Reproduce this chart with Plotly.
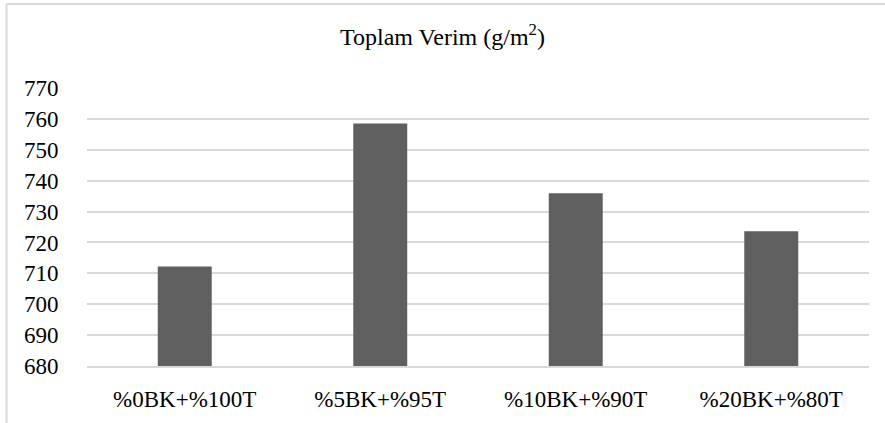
import plotly.graph_objects as go

categories = ["%0BK+%100T", "%5BK+%95T", "%10BK+%90T", "%20BK+%80T"]
values = [712.2, 758.5, 735.9, 723.6]
tick_vals = [680, 690, 700, 710, 720, 730, 740, 750, 760, 770]
title_text = "Toplam Verim (g/m<sup>2</sup>)"

font_family = "Liberation Serif"

fig = go.Figure(go.Bar(
    x=categories, y=values,
    marker=dict(color="#5f5f5f", line=dict(width=0)),
))

fig.update_layout(
    width=885, height=423,
    margin=dict(l=87, r=16, t=88, b=57),
    paper_bgcolor="white", plot_bgcolor="white",
    bargap=0.724,
    showlegend=False,
    title=dict(text=title_text, x=0.5, xanchor="center", y=1 - 37/423, yanchor="middle",
               font=dict(family=font_family, size=24, color="#000000")),
    font=dict(family=font_family, color="#000000"),
    xaxis=dict(showgrid=False, showline=True, linecolor="#d9d9d9", linewidth=2,
               tickfont=dict(size=23, family=font_family, color="#000000"),
               ticks="outside", ticklen=11, tickcolor="rgba(0,0,0,0)"),
    yaxis=dict(range=[680, 770], tickvals=tick_vals, showgrid=True,
               gridcolor="#d9d9d9", gridwidth=2, zeroline=False, showline=False,
               tickfont=dict(size=23, family=font_family, color="#000000"),
               ticks="outside", ticklen=23, tickcolor="rgba(0,0,0,0)"),
    shapes=[
        dict(type="line", xref="paper", yref="paper",
             x0=(6.5 - 87) / 782, x1=(6.5 - 87) / 782,
             y0=(366 - 423) / 278, y1=(366 - 4) / 278,
             line=dict(color="#d9d9d9", width=2)),
        dict(type="line", xref="paper", yref="paper",
             x0=(6.5 - 87) / 782, x1=(885 - 87) / 782,
             y0=(366 - 4) / 278, y1=(366 - 4) / 278,
             line=dict(color="#d9d9d9", width=2)),
    ],
)

fig.write_html("out.html", config={"displayModeBar": False},
               post_script="document.body.style.margin='0';document.body.style.overflow='hidden';")
